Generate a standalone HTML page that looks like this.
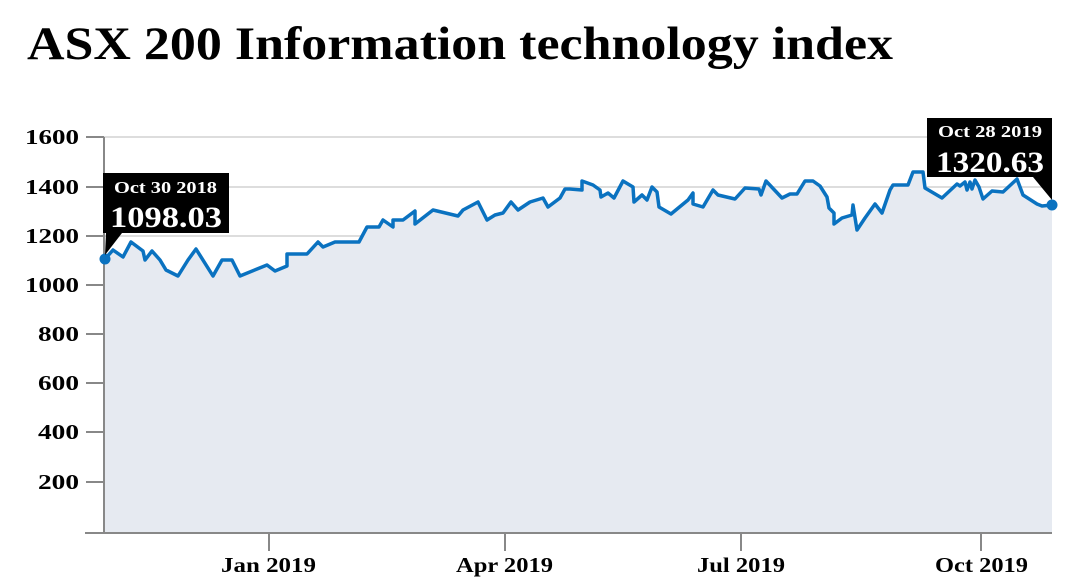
<!DOCTYPE html>
<html><head><meta charset="utf-8"><style>
body{margin:0;background:#fff;width:1083px;height:587px;overflow:hidden}
svg{display:block}
text{font-family:"Liberation Serif",serif;font-weight:bold}
</style></head><body>
<svg width="1083" height="587" viewBox="0 0 1083 587">
<text x="27" y="59" font-size="47" fill="#000" textLength="866" lengthAdjust="spacingAndGlyphs">ASX 200 Information technology index</text>
<g stroke="#ddd" stroke-width="2">
<line x1="104" y1="137" x2="1052" y2="137"/>
<line x1="104" y1="187" x2="1052" y2="187"/>
<line x1="104" y1="236" x2="1052" y2="236"/>
</g>
<path fill="#e6eaf1" d="M105,259 L113,250 123,257 131,242 143,251 145,260 152,251 160,260 166,270 178,276 188,260 196,249 213,276 222,260 232,260 240,276 267,265 275,271 287,266 287,254 307,254 318,242 323,247 335,242 359,242 367,227 379,227 383,220 393,227 393,220 403,220 415,211 415,224 433,210 458,216 463,210 478,202 487,220 495,215 503,213 511,202 518,210 530,202 543,198 548,207 560,198 565,189 570,189 582,190 582,181 593,185 600,190 601,197 608,193 614,198 623,181 633,187 634,202 642,195 647,200 652,187 657,192 659,207 671,214 688,200 693,193 693,204 703,207 713,190 718,195 735,199 745,188 759,189 761,195 766,181 782,198 790,194 797,194 805,181 813,181 820,186 827,197 829,208 834,213 834,224 842,218 852,215 853,205 857,230 865,218 875,204 882,213 890,190 893,185 908,185 913,172 923,172 925,188 942,198 957,184 960,186 965,182 967,190 970,182 972,189 975,180 979,187 983,199 992,191 1003,192 1017,179 1023,195 1037,204 1042,206 1052,205 L1052,533 L104,533 Z"/>
<g stroke="#888" stroke-width="2">
<line x1="104" y1="137" x2="104" y2="533"/>
<line x1="85" y1="533" x2="1052" y2="533"/>
<line x1="86" y1="137" x2="104" y2="137"/>
<line x1="86" y1="187" x2="104" y2="187"/>
<line x1="86" y1="236" x2="104" y2="236"/>
<line x1="86" y1="285" x2="104" y2="285"/>
<line x1="86" y1="334" x2="104" y2="334"/>
<line x1="86" y1="383" x2="104" y2="383"/>
<line x1="86" y1="432" x2="104" y2="432"/>
<line x1="86" y1="482" x2="104" y2="482"/>
<line x1="269" y1="533" x2="269" y2="551"/>
<line x1="505" y1="533" x2="505" y2="551"/>
<line x1="741" y1="533" x2="741" y2="551"/>
<line x1="981" y1="533" x2="981" y2="551"/>
</g>
<g font-size="21" fill="#000">
<text x="25" y="144" textLength="54" lengthAdjust="spacingAndGlyphs">1600</text>
<text x="25" y="194" textLength="54" lengthAdjust="spacingAndGlyphs">1400</text>
<text x="25" y="243" textLength="54" lengthAdjust="spacingAndGlyphs">1200</text>
<text x="25" y="292" textLength="54" lengthAdjust="spacingAndGlyphs">1000</text>
<text x="38" y="341" textLength="41" lengthAdjust="spacingAndGlyphs">800</text>
<text x="38" y="390" textLength="41" lengthAdjust="spacingAndGlyphs">600</text>
<text x="38" y="439" textLength="41" lengthAdjust="spacingAndGlyphs">400</text>
<text x="38" y="489" textLength="41" lengthAdjust="spacingAndGlyphs">200</text>
</g>
<g font-size="21" fill="#000">
<text x="221" y="572" textLength="95" lengthAdjust="spacingAndGlyphs">Jan 2019</text>
<text x="456" y="572" textLength="97" lengthAdjust="spacingAndGlyphs">Apr 2019</text>
<text x="697" y="572" textLength="88" lengthAdjust="spacingAndGlyphs">Jul 2019</text>
<text x="935" y="572" textLength="93" lengthAdjust="spacingAndGlyphs">Oct 2019</text>
</g>
<polyline fill="none" stroke="#0a72c0" stroke-width="3.5" stroke-linejoin="round" points="105,259 113,250 123,257 131,242 143,251 145,260 152,251 160,260 166,270 178,276 188,260 196,249 213,276 222,260 232,260 240,276 267,265 275,271 287,266 287,254 307,254 318,242 323,247 335,242 359,242 367,227 379,227 383,220 393,227 393,220 403,220 415,211 415,224 433,210 458,216 463,210 478,202 487,220 495,215 503,213 511,202 518,210 530,202 543,198 548,207 560,198 565,189 570,189 582,190 582,181 593,185 600,190 601,197 608,193 614,198 623,181 633,187 634,202 642,195 647,200 652,187 657,192 659,207 671,214 688,200 693,193 693,204 703,207 713,190 718,195 735,199 745,188 759,189 761,195 766,181 782,198 790,194 797,194 805,181 813,181 820,186 827,197 829,208 834,213 834,224 842,218 852,215 853,205 857,230 865,218 875,204 882,213 890,190 893,185 908,185 913,172 923,172 925,188 942,198 957,184 960,186 965,182 967,190 970,182 972,189 975,180 979,187 983,199 992,191 1003,192 1017,179 1023,195 1037,204 1042,206 1052,205"/>
<circle cx="105" cy="259" r="5.5" fill="#0a72c0"/>
<circle cx="1052" cy="205" r="5.5" fill="#0a72c0"/>
<path d="M103,173 H229 V233 H122 L105,255 L106,233 H103 Z" fill="#000"/>
<text x="114" y="193" font-size="17" fill="#fff" textLength="103" lengthAdjust="spacingAndGlyphs">Oct 30 2018</text>
<text x="110" y="227" font-size="30" fill="#fff" textLength="112" lengthAdjust="spacingAndGlyphs">1098.03</text>
<path d="M927,118 H1052 V200 L1033,177 H927 Z" fill="#000"/>
<text x="938" y="137" font-size="17" fill="#fff" textLength="104" lengthAdjust="spacingAndGlyphs">Oct 28 2019</text>
<text x="936" y="172" font-size="30" fill="#fff" textLength="108" lengthAdjust="spacingAndGlyphs">1320.63</text>
</svg>
</body></html>
